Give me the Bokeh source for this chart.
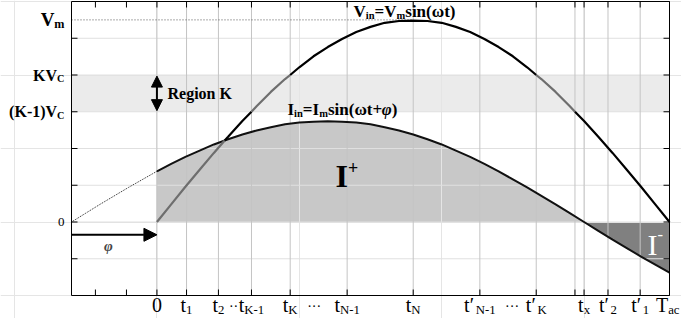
from bokeh.plotting import figure
from bokeh.models import Label, Arrow, NormalHead, Range1d
from bokeh.embed import file_html
from bokeh.resources import INLINE

# ---------------- data ----------------
# phase angle axis in degrees: 0 .. 180 is one half period of the mains (0 .. Tac)
vin_t = [0, 5, 10, 15, 20, 23.8, 25, 30, 33.2, 35, 40, 45, 46.8, 50, 55, 60, 65, 70, 75, 80, 85, 90,
         95, 100, 105, 110, 115, 120, 125, 130, 133.2, 135, 140, 145, 146.8, 150, 155, 160, 165, 170, 175, 180]
vin_v = [0, 0.48, 0.96, 1.42, 1.88, 2.22, 2.32, 2.75, 3.0, 3.15, 3.54, 3.89, 4.0, 4.21, 4.51, 4.76, 4.98, 5.17, 5.31, 5.42, 5.47, 5.48,
         5.47, 5.42, 5.31, 5.17, 4.98, 4.76, 4.51, 4.21, 4.0, 3.89, 3.54, 3.15, 3.0, 2.75, 2.32, 1.88, 1.42, 0.96, 0.48, 0]

iin_t = [-30, -25, -20, -15, -10, -5, 0, 5, 10, 15, 20, 25, 30, 35, 40, 45, 50, 55, 60, 65, 70, 75, 80, 85,
         90, 95, 100, 105, 110, 115, 120, 125, 130, 135, 140, 145, 150, 155, 160, 165, 170, 175, 180]
iin_v = [0, 0.24, 0.48, 0.71, 0.94, 1.16, 1.38, 1.58, 1.77, 1.94, 2.11, 2.25, 2.38, 2.49, 2.58, 2.66, 2.71, 2.73, 2.74, 2.73, 2.71, 2.66, 2.58, 2.49,
         2.38, 2.25, 2.11, 1.94, 1.77, 1.58, 1.38, 1.16, 0.94, 0.71, 0.48, 0.24, 0, -0.24, -0.48, -0.71, -0.94, -1.16, -1.38]

# Vin colour changes: below the current curve, and inside region K (gray)
vin_breaks = [0, 23.8, 33.2, 46.8, 133.2, 146.8, 180]
vin_seg_gray = [True, False, True, False, True, False]

t_zero = 0
t_x = 150          # current zero crossing
t_ac = 180
vm_level = 5.5
band_lo, band_hi = 3, 4     # (K-1)Vc .. KVc

tick_pos = [0, 10.4, 21.6, 33.2, 46.8, 66.8, 90, 113.4, 133.2, 146.8, 150, 158.4, 169.7, 180]
tick_base = ["0", "t", "t", "t", "t", "t", "t", "t\u2032", "t\u2032", "", "t", "t\u2032", "t\u2032", "T"]
tick_sub = ["", "1", "2", "K-1", "K", "N-1", "N", "N-1", "K", "", "x", "2", "1", "ac"]
minor_tick_pos = [-21.6, -10.7]
sep_pos = [26.5, 54.6, 124.1]
sep_text = ["\u00b7\u00b7", "\u00b7\u00b7\u00b7", "\u00b7\u00b7\u00b7"]

y_tick_pos = [-1, 0, 1, 2, 3, 4, 5]
ylab_pos = [5.5, 4, 3, 0]
ylab_base = ["V", "KV", "(K-1)V", "0"]
ylab_sub = ["m", "C", "C", ""]

# ---------------- layout (pixels) ----------------
W, H = 681, 318
BOX_L, BOX_R, BOX_T, BOX_B = 71, 669, 1, 295
XMIN, XMAX, YMIN, YMAX = -30, 180, -2, 6
UX = (BOX_R - BOX_L) / (XMAX - XMIN)
UY = (BOX_B - BOX_T) / (YMAX - YMIN)
FONT = "Liberation Serif"
BASE_FIX = 0.33   # bokeh draws "alphabetic" text about a third of an em low

p = figure(width=W, height=H,
           x_range=Range1d(XMIN - BOX_L / UX, XMAX + (W - BOX_R) / UX),
           y_range=Range1d(YMIN - (H - BOX_B) / UY, YMAX + BOX_T / UY),
           output_backend="svg", toolbar_location=None,
           x_axis_location=None, y_axis_location=None,
           min_border=0, min_border_left=0, min_border_right=0, min_border_top=0, min_border_bottom=0)
p.outline_line_color = None
p.background_fill_color = "white"
p.border_fill_color = "white"

def under(r):
    r.level = "image"
    return r

# region K band
under(p.quad(left=[XMIN], right=[XMAX], bottom=[band_lo], top=[band_hi], fill_color="#ebebeb", line_color=None))

# I+ and I- areas
i_pos = [i for i, t in enumerate(iin_t) if t_zero <= t <= t_x]
i_neg = [i for i, t in enumerate(iin_t) if t_x <= t <= t_ac]
under(p.varea(x=[iin_t[i] for i in i_pos], y1=[0] * len(i_pos), y2=[iin_v[i] for i in i_pos], fill_color="#c8c8c8"))
under(p.varea(x=[iin_t[i] for i in i_neg], y1=[0] * len(i_neg), y2=[iin_v[i] for i in i_neg], fill_color="#808080"))

# grid
p.segment(x0=XMIN, x1=XMAX, y0=y_tick_pos, y1=y_tick_pos, line_color="#e0e0e0", line_width=1)
p.segment(x0=tick_pos, x1=tick_pos, y0=YMIN, y1=YMAX, line_color="#c4c4c4", line_width=1)

# ticks (inward)
TL = 6
xt = minor_tick_pos + tick_pos
p.segment(x0=xt, x1=xt, y0=YMIN, y1=YMIN + TL / UY, line_color="black", line_width=1)
p.segment(x0=xt, x1=xt, y0=YMAX, y1=YMAX - TL / UY, line_color="black", line_width=1)
p.segment(x0=XMIN, x1=XMIN + TL / UX, y0=y_tick_pos, y1=y_tick_pos, line_color="black", line_width=1)
p.segment(x0=XMAX, x1=XMAX - TL / UX, y0=y_tick_pos, y1=y_tick_pos, line_color="black", line_width=1)

# Vm dotted reference
p.line(x=[XMIN, 90], y=[vm_level, vm_level], line_color="#555555", line_width=1, line_dash="1 2")

# Iin: dotted before 0, solid after
i_pre = [i for i, t in enumerate(iin_t) if t <= t_zero]
i_post = [i for i, t in enumerate(iin_t) if t >= t_zero]
p.line(x=[iin_t[i] for i in i_pre], y=[iin_v[i] for i in i_pre], line_color="#222222", line_width=1, line_dash="1 1")
p.line(x=[iin_t[i] for i in i_post], y=[iin_v[i] for i in i_post], line_color="#111111", line_width=2)

# Vin in coloured segments
for k in range(len(vin_breaks) - 1):
    a, b = vin_t.index(vin_breaks[k]), vin_t.index(vin_breaks[k + 1])
    p.line(x=vin_t[a:b + 1], y=vin_v[a:b + 1],
           line_color="#6e6e6e" if vin_seg_gray[k] else "#000000", line_width=2.2)

# box
p.quad(left=[XMIN], right=[XMAX], bottom=[YMIN], top=[YMAX], fill_color=None, line_color="black", line_width=1)

# ---------------- text helpers ----------------
REG = {' ': .25, '0': .5, '1': .5, '2': .5, 't': .278, 'K': .722, 'N': .722, '-': .333, 'x': .5, 'T': .611,
       'a': .444, 'c': .444, '\u2032': .3, '\u00b7': .25, 'I': .333}
BOLD = {' ': .25, 'V': .722, 'K': .778, 'C': .722, '(': .333, ')': .333, '-': .333, '1': .5, 'm': .833, 'i': .278,
        'n': .556, '=': .57, 'I': .389, 's': .389, '\u03c9': .7, 't': .333, '+': .57, '\u03c6': .6, 'R': .722,
        'e': .444, 'g': .5, 'o': .5, '0': .5}

def width(s, size, style):
    tbl = BOLD if "bold" in style else REG
    return sum(tbl.get(c, .5) for c in s) * size

def rich(pieces, x, y, size, anchor="left", x_off=0.0, y_off=0.0, color="black", sub_ratio=0.64, sup_raise=0.45):
    parts = []
    for text, role, style in pieces:
        s = size if role == "base" else size * sub_ratio
        parts.append((text, role, style, s, width(text, s, style)))
    total = sum(w for *_, w in parts)
    cur = x_off - (total / 2 if anchor == "center" else total if anchor == "right" else 0)
    # keep inside the canvas
    sx = BOX_L + (x - XMIN) * UX
    if sx + cur + total > W - 2:
        cur = W - 2 - total - sx
    for text, role, style, s, w in parts:
        dy = 0 if role == "base" else (-0.12 * size if role == "sub" else sup_raise * size)
        if text:
            p.add_layout(Label(x=x, y=y, x_offset=cur, y_offset=y_off + dy + BASE_FIX * s, text=text,
                               text_font=FONT, text_font_size=f"{s:.1f}px", text_font_style=style,
                               text_color=color, text_align="left", text_baseline="alphabetic"))
        cur += w

# reference-picture pixel -> data
def RX(px):
    return XMIN + (px - 71) / 2.848
def RY(py):
    return (224 - py) / 37.33

# bottom tick labels
for pos, b, s in zip(tick_pos, tick_base, tick_sub):
    if b:
        rich([(b, "base", "normal"), (s, "sub", "normal")], pos, YMIN, 20, anchor="center", y_off=-16)
for pos, s in zip(sep_pos, sep_text):
    rich([(s, "base", "normal")], pos, YMIN, 14, anchor="center", y_off=-16)

# left labels
ylab_size = [19, 16, 16, 13]
ylab_style = ["bold", "bold", "bold", "normal"]
for pos, b, s, sz, st in zip(ylab_pos, ylab_base, ylab_sub, ylab_size, ylab_style):
    rich([(b, "base", st), (s, "sub", st)], XMIN, pos, sz, anchor="right", x_off=-7, y_off=-0.33 * sz)

# formulas
rich([("V", "base", "bold"), ("in", "sub", "bold"), ("=V", "base", "bold"), ("m", "sub", "bold"),
      ("sin(\u03c9t)", "base", "bold")], RX(353), RY(16), 17, sub_ratio=0.62)
rich([("I", "base", "bold"), ("in", "sub", "bold"), ("=I", "base", "bold"), ("m", "sub", "bold"),
      ("sin(\u03c9t+", "base", "bold"), ("\u03c6", "base", "bold italic"), (")", "base", "bold")],
     RX(287), RY(115), 17, sub_ratio=0.62)

# region K
rich([("Region K", "base", "bold")], RX(167), RY(99), 16)
p.add_layout(Arrow(x_start=t_zero, y_start=band_lo + 0.03, x_end=t_zero, y_end=band_hi - 0.03,
                   start=NormalHead(size=11, fill_color="black", line_color="black"),
                   end=NormalHead(size=11, fill_color="black", line_color="black"),
                   line_width=2, line_color="black"))

# phase arrow
p.add_layout(Arrow(x_start=XMIN, y_start=RY(237), x_end=t_zero, y_end=RY(237),
                   end=NormalHead(size=13, fill_color="black", line_color="black"),
                   line_width=2, line_color="black"))
p.add_layout(Label(x=RX(108), y=RY(248), text="\u03c6", text_font=FONT, text_font_size="15px",
                   text_font_style="bold italic", text_align="center", text_baseline="middle"))

# I+ / I-
rich([("I", "base", "bold"), ("+", "sup", "bold")], RX(335), RY(188), 32, sub_ratio=0.56, sup_raise=0.4)
rich([("I", "base", "normal"), ("-", "sup", "normal")], RX(647), RY(257), 30, color="white",
     sub_ratio=0.55, sup_raise=0.5)

open("out.html", "w").write(file_html(p, INLINE))
